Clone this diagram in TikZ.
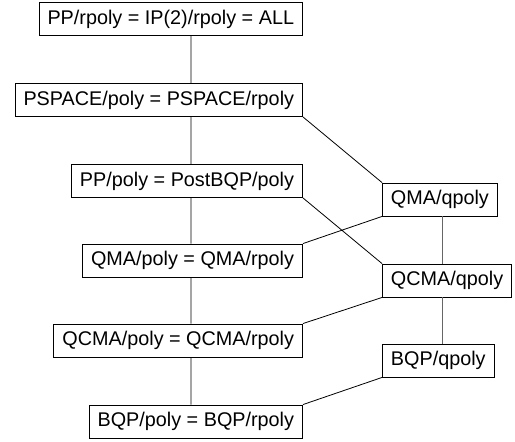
\documentclass[tikz,border=0pt]{standalone}
\usepackage{fontspec}
\setmainfont{Liberation Sans}
\usetikzlibrary{positioning}

\begin{document}
\begin{tikzpicture}[x=1pt, y=-1pt, cls/.style={draw, line width=0.9pt, inner xsep=8.5pt, minimum height=33pt, font=\fontsize{19.8}{24}\selectfont}]
                        \useasboundingbox (0, 0) rectangle (515, 442);
                        \coordinate (lcol) at (191, 0);
                        \coordinate (rcol) at (442, 0);
                        \node[cls, anchor=east] (all) at (303, 19) {PP/rpoly = IP(2)/rpoly = ALL};
                        \node[cls, anchor=east] (pspace) at (303, 100) {PSPACE/poly = PSPACE/rpoly};
                        \node[cls, anchor=east] (pp) at (303, 181) {PP/poly = PostBQP/poly};
                        \node[cls, anchor=east] (qma) at (303, 260.5) {QMA/poly = QMA/rpoly};
                        \node[cls, anchor=east] (qcma) at (303, 340.5) {QCMA/poly = QCMA/rpoly};
                        \node[cls, anchor=east] (bqp) at (303, 421.5) {BQP/poly = BQP/rpoly};
                        \node[cls, anchor=west] (qmaq) at (382, 199.5) {QMA/qpoly};
                        \node[cls, anchor=west] (qcmaq) at (382, 280.5) {QCMA/qpoly};
                        \node[cls, anchor=west] (bqpq) at (382, 360.5) {BQP/qpoly};
                        \draw[line width=0.8pt]
                        (all.south -| lcol) -- (pspace.north -| lcol)
                        (pspace.south -| lcol) -- (pp.north -| lcol)
                        (pp.south -| lcol) -- (qma.north -| lcol)
                        (qma.south -| lcol) -- (qcma.north -| lcol)
                        (qcma.south -| lcol) -- (bqp.north -| lcol)
                        (pspace.south east) -- (qmaq.north west)
                        (pp.south east) -- (qcmaq.north west)
                        (qmaq.south west) -- (qma.north east)
                        (qcmaq.south west) -- (qcma.north east)
                        (bqpq.south west) -- (bqp.north east);
                        \draw[line width=0.8pt, black!60]
                        (qmaq.south -| rcol) -- (qcmaq.north -| rcol)
                        (qcmaq.south -| rcol) -- (bqpq.north -| rcol);
                    \end{tikzpicture}
\end{document}
